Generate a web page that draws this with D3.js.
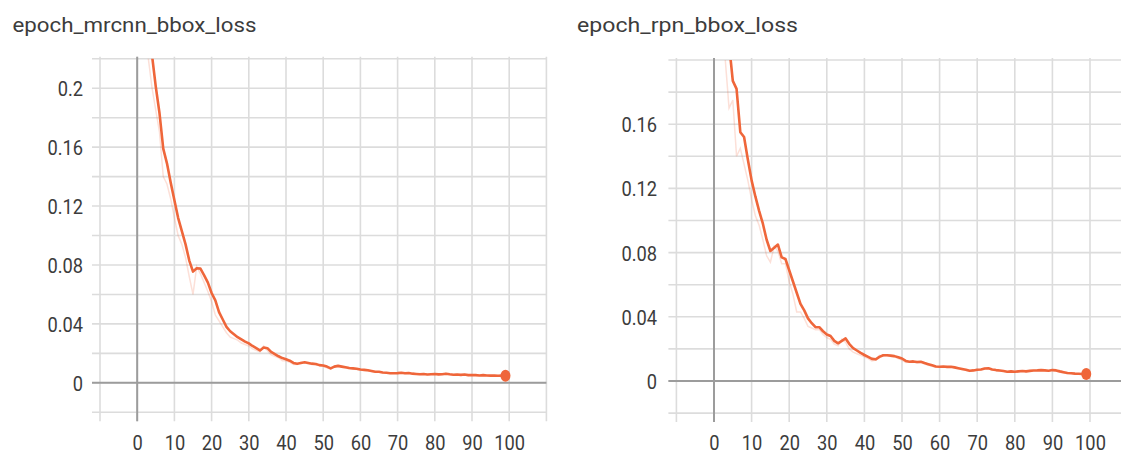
<!DOCTYPE html>
<html>
<head>
<meta charset="utf-8">
<script src="https://cdn.jsdelivr.net/npm/d3@7/dist/d3.min.js"></script>
<style>
  body { margin: 0; background: #fff; }
  svg text { font-family: Roboto, "Liberation Sans", sans-serif; fill: #3c3c3c; }
</style>
</head>
<body>
<div class="chart"></div>
<script>
// chart titles
var titles = ["epoch_mrcnn_bbox_loss", "epoch_rpn_bbox_loss"];

// x axis: labelled ticks and grid lines (epochs)
var xTickValues = [0, 10, 20, 30, 40, 50, 60, 70, 80, 90, 100];
var xGridValues = [-10, 0, 10, 20, 30, 40, 50, 60, 70, 80, 90, 100, 110];

// y axis ticks and grid lines
var mrcnnTickY = [0, 0.04, 0.08, 0.12, 0.16, 0.2];
var mrcnnGridY = [-0.02, 0, 0.02, 0.04, 0.06, 0.08, 0.1, 0.12, 0.14, 0.16, 0.18, 0.2, 0.22];
var rpnTickY = [0, 0.04, 0.08, 0.12, 0.16];
var rpnGridY = [-0.02, 0, 0.02, 0.04, 0.06, 0.08, 0.1, 0.12, 0.14, 0.16, 0.18, 0.2];

// epoch_mrcnn_bbox_loss, one value per epoch 0..99 (smoothed + raw)
var mrcnnSmoothed = [
  0.40, 0.33, 0.28, 0.245, 0.222, 0.201, 0.183, 0.159, 0.149, 0.136,
  0.124, 0.112, 0.103, 0.094, 0.083, 0.0755, 0.0778, 0.0775, 0.073, 0.068,
  0.061, 0.056, 0.048, 0.043, 0.038, 0.035, 0.033, 0.031, 0.0295, 0.028,
  0.0268, 0.025, 0.0235, 0.022, 0.024, 0.0235, 0.021, 0.0195, 0.018, 0.0168,
  0.016, 0.015, 0.0135, 0.013, 0.0135, 0.014, 0.0135, 0.013, 0.0128, 0.012,
  0.0118, 0.011, 0.0098, 0.011, 0.0115, 0.011, 0.0105, 0.01, 0.0098, 0.0095,
  0.009, 0.0088, 0.0085, 0.008, 0.0075, 0.0075, 0.007, 0.0068, 0.0065, 0.0065,
  0.0066, 0.0068, 0.0065, 0.0066, 0.0062, 0.006, 0.0058, 0.006, 0.0056, 0.0058,
  0.006, 0.0057, 0.0058, 0.0062, 0.0058, 0.0055, 0.0056, 0.0054, 0.0056, 0.0052,
  0.0053, 0.0052, 0.005, 0.0052, 0.005, 0.0049, 0.005, 0.0048, 0.0049, 0.0048
];
var mrcnnRaw = [
  0.38, 0.30, 0.25, 0.22, 0.20, 0.185, 0.17, 0.14, 0.135, 0.125,
  0.112, 0.10, 0.094, 0.085, 0.072, 0.060, 0.079, 0.074, 0.068, 0.062,
  0.055, 0.046, 0.042, 0.038, 0.034, 0.031, 0.030, 0.029, 0.027, 0.026,
  0.025, 0.023, 0.022, 0.021, 0.025, 0.022, 0.019, 0.018, 0.017, 0.015,
  0.015, 0.014, 0.0125, 0.0125, 0.014, 0.0135, 0.013, 0.0125, 0.0122, 0.0115,
  0.0112, 0.0102, 0.0092, 0.0115, 0.011, 0.0105, 0.01, 0.0096, 0.0094, 0.009,
  0.0087, 0.0085, 0.008, 0.0076, 0.0072, 0.0073, 0.0067, 0.0066, 0.0063, 0.0064,
  0.0066, 0.0067, 0.0062, 0.0065, 0.006, 0.0058, 0.0056, 0.006, 0.0054, 0.0058,
  0.0059, 0.0055, 0.0058, 0.006, 0.0056, 0.0054, 0.0056, 0.0052, 0.0056, 0.005,
  0.0053, 0.0051, 0.0049, 0.0052, 0.0049, 0.0048, 0.005, 0.0047, 0.0049, 0.0048
];

// epoch_rpn_bbox_loss, one value per epoch 0..99 (smoothed + raw)
var rpnSmoothed = [
  0.40, 0.32, 0.27, 0.235, 0.21, 0.187, 0.182, 0.155, 0.152, 0.138,
  0.125, 0.115, 0.106, 0.098, 0.088, 0.081, 0.083, 0.085, 0.077, 0.076,
  0.069, 0.062, 0.055, 0.048, 0.044, 0.039, 0.036, 0.0335, 0.0335, 0.031,
  0.029, 0.028, 0.025, 0.0235, 0.025, 0.0265, 0.023, 0.0205, 0.019, 0.0175,
  0.0162, 0.015, 0.0138, 0.0135, 0.015, 0.016, 0.016, 0.0158, 0.0155, 0.0148,
  0.014, 0.0125, 0.012, 0.0122, 0.0118, 0.012, 0.0112, 0.0105, 0.0098, 0.009,
  0.0089, 0.009, 0.0088, 0.0089, 0.0085, 0.008, 0.0075, 0.007, 0.0064, 0.0066,
  0.007, 0.0072, 0.0078, 0.0079, 0.0072, 0.0068, 0.0065, 0.0062, 0.0058, 0.006,
  0.0058, 0.006, 0.0062, 0.006, 0.0063, 0.0065, 0.0066, 0.0068, 0.0066, 0.0064,
  0.0068, 0.0066, 0.006, 0.0055, 0.005, 0.0048, 0.0046, 0.0045, 0.0044, 0.0043
];
var rpnRaw = [
  0.36, 0.29, 0.24, 0.20, 0.17, 0.175, 0.14, 0.145, 0.135, 0.125,
  0.113, 0.103, 0.097, 0.088, 0.078, 0.074, 0.084, 0.081, 0.073, 0.073,
  0.062, 0.054, 0.043, 0.043, 0.039, 0.034, 0.033, 0.032, 0.032, 0.029,
  0.027, 0.026, 0.023, 0.022, 0.026, 0.024, 0.02, 0.018, 0.017, 0.016,
  0.015, 0.014, 0.0125, 0.013, 0.016, 0.0155, 0.0158, 0.0152, 0.015, 0.014,
  0.013, 0.0115, 0.0118, 0.012, 0.0112, 0.0118, 0.0105, 0.0098, 0.0092, 0.0086,
  0.0088, 0.009, 0.0085, 0.0088, 0.008, 0.0076, 0.007, 0.0066, 0.006, 0.0067,
  0.0072, 0.0073, 0.008, 0.0076, 0.0068, 0.0066, 0.0062, 0.006, 0.0056, 0.0062,
  0.0056, 0.0062, 0.0063, 0.0058, 0.0065, 0.0066, 0.0066, 0.007, 0.0064, 0.0062,
  0.007, 0.0062, 0.0055, 0.005, 0.0046, 0.0046, 0.0044, 0.0044, 0.0043, 0.0042
];

(function () {

  var width = 1121, height = 459;
  var lineColor = "#ef663a";
  var textSquash = "scale(0.87,1)";

  var svg = d3.select(".chart")
    .append("svg")
    .attr("width", width)
    .attr("height", height);

  // one tensorboard style panel
  function drawPanel(cfg, idx) {
    var x = d3.scaleLinear().domain([0, 100]).range(cfg.xRange);
    var y = d3.scaleLinear().domain([0, cfg.yMax]).range(cfg.yRange);

    var left = x(-10) - 8, right = x(110);
    var top = y(cfg.yMax), bottom = y(-0.02) + 9;

    var g = svg.append("g").attr("class", "panel");

    // title
    g.append("text")
      .attr("x", cfg.titleX)
      .attr("y", 32)
      .attr("textLength", cfg.titleW)
      .attr("lengthAdjust", "spacingAndGlyphs")
      .style("font-size", "21px")
      .text(cfg.title);

    // grid
    g.selectAll(".vgrid")
      .data(xGridValues)
      .enter()
      .append("line")
      .attr("x1", function (d) { return x(d); })
      .attr("x2", function (d) { return x(d); })
      .attr("y1", top - 2)
      .attr("y2", bottom)
      .attr("stroke", "#dcdcdc")
      .attr("stroke-width", 1.6);

    g.selectAll(".hgrid")
      .data(cfg.gridY)
      .enter()
      .append("line")
      .attr("x1", left)
      .attr("x2", right)
      .attr("y1", function (d) { return y(d); })
      .attr("y2", function (d) { return y(d); })
      .attr("stroke", "#dcdcdc")
      .attr("stroke-width", 1.6);

    // zero lines on top of the grid
    g.append("line")
      .attr("x1", x(0)).attr("x2", x(0))
      .attr("y1", top - 2).attr("y2", bottom)
      .attr("stroke", "#9c9c9c").attr("stroke-width", 2);
    g.append("line")
      .attr("x1", left).attr("x2", right)
      .attr("y1", y(0)).attr("y2", y(0))
      .attr("stroke", "#9c9c9c").attr("stroke-width", 2);

    // y axis labels
    var yAxis = d3.axisLeft(y)
      .tickValues(cfg.tickY)
      .tickSize(0)
      .tickPadding(0)
      .tickFormat(function (d) { return String(+d.toFixed(2)); });

    var ya = g.append("g")
      .attr("transform", "translate(" + cfg.labelX + ",0)")
      .call(yAxis);
    ya.select(".domain").remove();
    ya.selectAll("text")
      .attr("transform", textSquash)
      .attr("dy", "0.36em")
      .style("font-size", "21px")
      .attr("fill", "#3c3c3c");

    // x axis labels
    var xAxis = d3.axisBottom(x)
      .tickValues(xTickValues)
      .tickSize(0)
      .tickPadding(0);

    var xa = g.append("g")
      .attr("transform", "translate(0,442)")
      .call(xAxis);
    xa.select(".domain").remove();
    xa.selectAll("text")
      .attr("y", 0)
      .attr("dy", "0.36em")
      .attr("transform", textSquash)
      .style("font-size", "21px")
      .attr("fill", "#3c3c3c");

    // clip for lines
    g.append("clipPath")
      .attr("id", "clip" + idx)
      .append("rect")
      .attr("x", left)
      .attr("y", top)
      .attr("width", right - left)
      .attr("height", bottom - top);

    var line = d3.line()
      .x(function (d, i) { return x(i); })
      .y(function (d) { return y(d); });

    var lines = g.append("g").attr("clip-path", "url(#clip" + idx + ")");

    // raw values, faded
    lines.append("path")
      .datum(cfg.raw)
      .attr("d", line)
      .attr("fill", "none")
      .attr("stroke", lineColor)
      .attr("stroke-opacity", 0.2)
      .attr("stroke-width", 1.5);

    // smoothed values
    lines.append("path")
      .datum(cfg.smooth)
      .attr("d", line)
      .attr("fill", "none")
      .attr("stroke", lineColor)
      .attr("stroke-width", 2.6)
      .attr("stroke-linejoin", "round");

    // last point marker
    var last = cfg.smooth.length - 1;
    g.append("ellipse")
      .attr("cx", x(last))
      .attr("cy", y(cfg.smooth[last]))
      .attr("rx", 5)
      .attr("ry", 6)
      .attr("fill", lineColor);
  } // end drawPanel()

  drawPanel({
    title: titles[0], titleX: 12.5, titleW: 244,
    xRange: [137.2, 509.2], yMax: 0.22, yRange: [382.8, 58.8],
    labelX: 83, tickY: mrcnnTickY, gridY: mrcnnGridY,
    smooth: mrcnnSmoothed, raw: mrcnnRaw
  }, 0);

  drawPanel({
    title: titles[1], titleX: 577, titleW: 221,
    xRange: [714, 1090], yMax: 0.2, yRange: [381, 60],
    labelX: 657, tickY: rpnTickY, gridY: rpnGridY,
    smooth: rpnSmoothed, raw: rpnRaw
  }, 1);

})(); // end of wrapper function
</script>
</body>
</html>
